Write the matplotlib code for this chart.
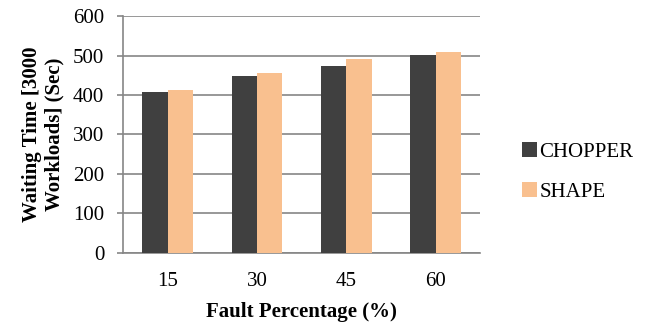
import numpy as np
import matplotlib.pyplot as plt

plt.rcParams['font.family'] = ['Liberation Serif', 'DejaVu Serif']

# Waiting time per fault percentage
fault_pct = ['15', '30', '45', '60']
chopper = [407, 449, 473, 501]
shape = [412, 457, 490, 508]

fig = plt.figure(figsize=(6.48, 3.28), dpi=100)
ax = fig.add_axes([0.19, 0.229, 0.551, 0.722])

x = np.arange(len(fault_pct))
w = 0.285
ax.bar(x - w / 2, chopper, w, color='#404040', label='CHOPPER', zorder=3)
ax.bar(x + w / 2, shape, w, color='#F9C08F', label='SHAPE', zorder=3)

ax.set_xlim(-0.5, len(fault_pct) - 0.5)
ax.set_ylim(0, 600)
ax.set_yticks(np.arange(0, 601, 100))
ax.set_xticks(x)
ax.set_xticklabels(fault_pct)

ax.grid(axis='y', color='#868686', linewidth=1.2, zorder=0)
for side in ['top', 'right']:
    ax.spines[side].set_visible(False)
ax.spines['left'].set_color('#868686')
ax.spines['bottom'].set_color('#868686')
ax.spines['left'].set_linewidth(1.2)
ax.spines['bottom'].set_linewidth(1.2)
ax.tick_params(axis='y', length=4.5, color='#868686', width=1.2, labelsize=15, pad=9)
ax.tick_params(axis='x', length=0, labelsize=15, pad=14)

ax.set_xlabel('Fault Percentage (%)', fontsize=15, fontweight='bold', labelpad=8)
ax.set_ylabel('Waiting Time [3000\nWorkloads] (Sec)', fontsize=15,
              fontweight='bold', labelpad=6, linespacing=1.2)

ax.legend(loc='center left', bbox_to_anchor=(1.0, 0.342), frameon=False,
          fontsize=15, handlelength=0.75, handleheight=0.75, handletextpad=0.1,
          labelspacing=0.95, borderaxespad=1.6)

fig.savefig('out.png', dpi=100)
